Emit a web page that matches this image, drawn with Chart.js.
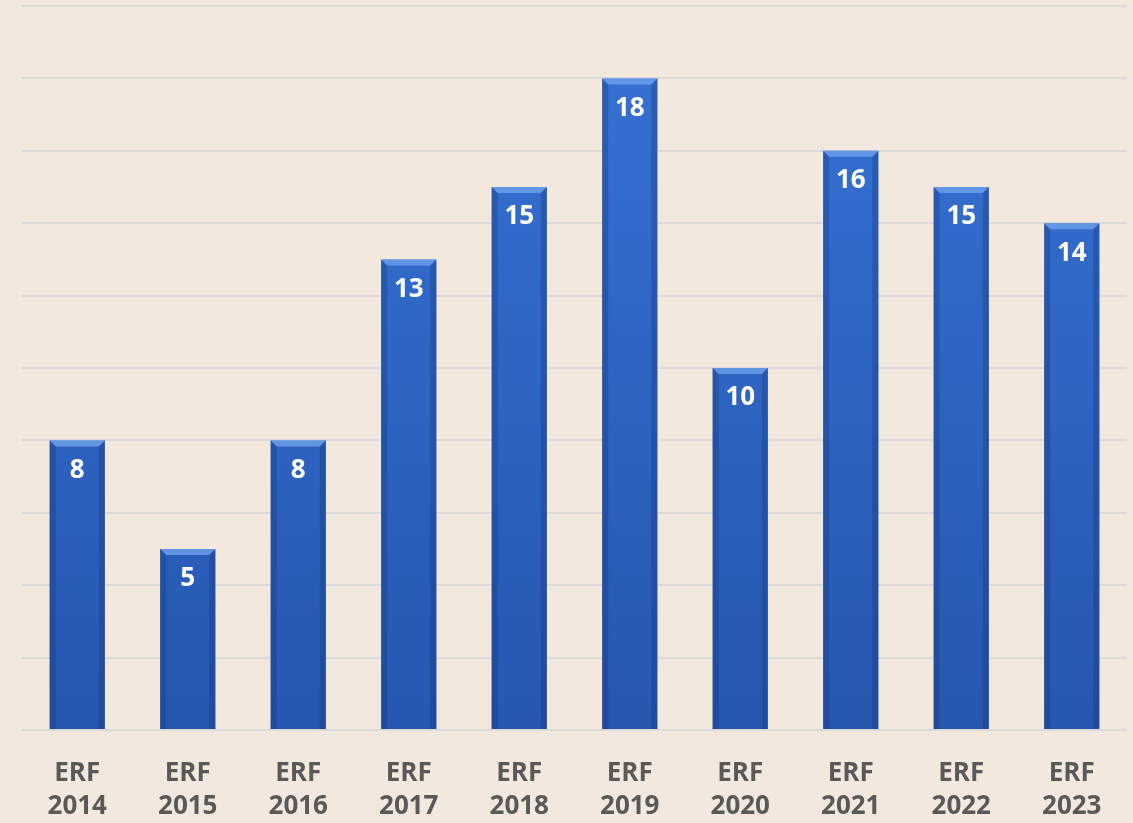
<!DOCTYPE html>
<html lang="en">
<head>
    <meta charset="UTF-8">
    <title>ERF</title>
    <script src="https://cdn.jsdelivr.net/npm/chart.js"></script>
    <style>
        html, body { margin: 0; padding: 0; background: #f2e8de; }
        #wrap { width: 1133px; height: 823px; position: relative; }
    </style>
</head>
<body>
    <div id="wrap"><canvas id="erfChart"></canvas></div>

    <script>
        // Data
        const editions = ['2014', '2015', '2016', '2017', '2018', '2019', '2020', '2021', '2022', '2023'];
        const counts = [8, 5, 8, 13, 15, 18, 10, 16, 15, 14];
        const labels = editions.map(y => ['ERF', y]);

        // Fill each bar with a vertical gradient
        function barFill(context) {
            const chart = context.chart;
            const area = chart.chartArea;
            if (!area) return '#2f66c6';
            const g = chart.ctx.createLinearGradient(0, area.top, 0, area.bottom);
            g.addColorStop(0, '#3673d6');
            g.addColorStop(1, '#2656b0');
            return g;
        }

        // Draw bevel edges and the value labels inside each bar
        const bevelAndLabels = {
            id: 'bevelAndLabels',
            afterDatasetsDraw(chart) {
                const ctx = chart.ctx;
                const meta = chart.getDatasetMeta(0);
                meta.data.forEach((bar, i) => {
                    const left = bar.x - bar.width / 2;
                    const right = bar.x + bar.width / 2;
                    const top = bar.y;
                    const bottom = bar.base;
                    const b = 6;
                    ctx.save();
                    // top bevel
                    ctx.fillStyle = 'rgba(120,170,240,0.7)';
                    ctx.beginPath();
                    ctx.moveTo(left, top);
                    ctx.lineTo(right, top);
                    ctx.lineTo(right - b, top + b);
                    ctx.lineTo(left + b, top + b);
                    ctx.closePath();
                    ctx.fill();
                    // left/right darker edges
                    ctx.fillStyle = 'rgba(20,50,110,0.3)';
                    ctx.beginPath();
                    ctx.moveTo(left, top);
                    ctx.lineTo(left + b, top + b);
                    ctx.lineTo(left + b, bottom);
                    ctx.lineTo(left, bottom);
                    ctx.closePath();
                    ctx.fill();
                    ctx.beginPath();
                    ctx.moveTo(right, top);
                    ctx.lineTo(right - b, top + b);
                    ctx.lineTo(right - b, bottom);
                    ctx.lineTo(right, bottom);
                    ctx.closePath();
                    ctx.fill();
                    // value
                    ctx.fillStyle = '#ffffff';
                    ctx.font = 'bold 26px "Open Sans", "Noto Sans", sans-serif';
                    ctx.textAlign = 'center';
                    ctx.textBaseline = 'middle';
                    ctx.fillText(counts[i], bar.x, top + 30);
                    ctx.restore();
                });
            }
        };

        const ctx = document.getElementById('erfChart').getContext('2d');
        const chart = new Chart(ctx, {
            type: 'bar',
            data: {
                labels: labels,
                datasets: [{
                    label: 'ERF',
                    data: counts,
                    backgroundColor: barFill,
                    borderWidth: 0,
                    barPercentage: 0.5,
                    categoryPercentage: 1.0
                }]
            },
            options: {
                responsive: true,
                maintainAspectRatio: false,
                animation: false,
                layout: { padding: { left: 22, right: 6, top: 6, bottom: 0 } },
                plugins: {
                    legend: { display: false },
                    tooltip: { enabled: false }
                },
                scales: {
                    x: {
                        grid: { display: false },
                        border: { display: false },
                        afterFit: (scale) => { scale.height = 93; },
                        ticks: {
                            color: '#595959',
                            font: { family: '"Open Sans", "Noto Sans", sans-serif', size: 26, weight: 'bold', lineHeight: 1.27 },
                            padding: 19
                        }
                    },
                    y: {
                        min: 0,
                        max: 20,
                        ticks: { display: false, stepSize: 2 },
                        border: { display: false },
                        grid: { color: '#d9d9d9', lineWidth: 2, drawTicks: false }
                    }
                }
            },
            plugins: [bevelAndLabels]
        });
    </script>
</body>
</html>
